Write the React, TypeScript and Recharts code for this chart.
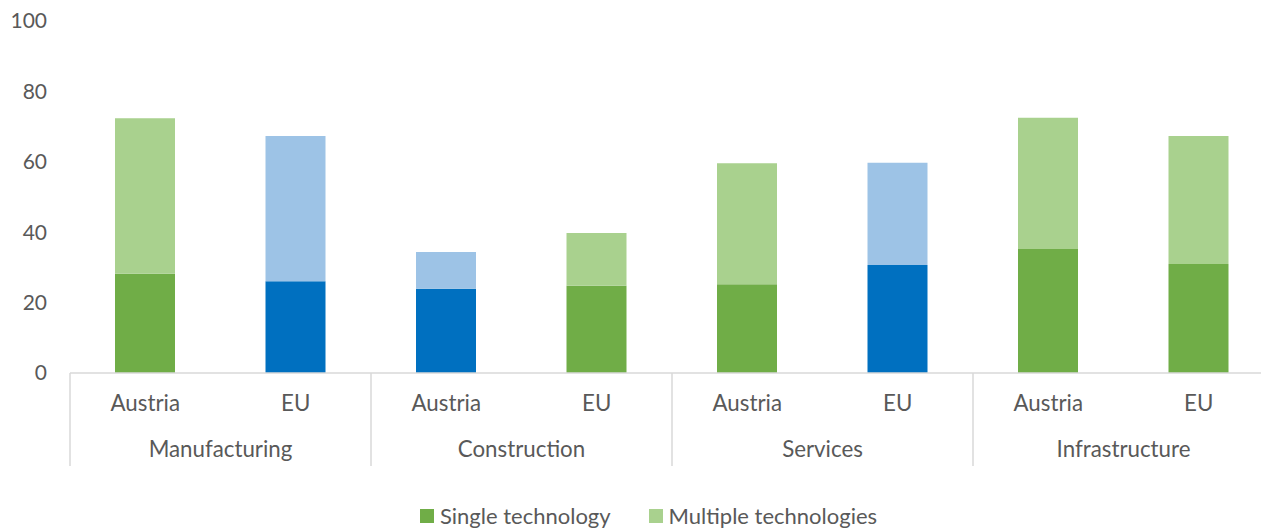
import { BarChart, Bar, XAxis, YAxis, Legend, Cell } from "recharts";

const sectors = ["Manufacturing", "Construction", "Services", "Infrastructure"];
const countries = ["Austria", "EU", "Austria", "EU", "Austria", "EU", "Austria", "EU"];
const singleTech = [28.2, 26.1, 23.9, 24.8, 25.2, 30.7, 35.2, 31.0];
const multipleTech = [44.2, 41.2, 10.5, 15.0, 34.4, 29.0, 37.3, 36.3];
const yTicks = [0, 20, 40, 60, 80, 100];
// bars drawn in blue instead of green
const blueBars = [1, 2, 5];

const CHART_W = 1280;
const CHART_H = 528;
const MARGIN = { top: 21, right: 6, left: 0, bottom: 0 };
const Y_W = 70;
const SLOT = (CHART_W - MARGIN.left - MARGIN.right - Y_W) / countries.length;

const TEXT = "#595959";
const AXIS = "#D9D9D9";
const FONT = "Lato, 'Noto Sans', sans-serif";

const data = countries.map((c, i) => ({
  country: c,
  sector: sectors[Math.floor(i / 2)],
  single: singleTech[i],
  multiple: multipleTech[i],
}));

function CountryTick(props: any) {
  const { x, y, payload } = props;
  const i = payload.index;
  return (
    <g>
      <text x={x} y={y + 38} textAnchor="middle" fill={TEXT} fontSize={22.3} fontFamily={FONT}>
        {payload.value}
      </text>
      {i % 2 === 0 && (
        <>
          <line x1={x - SLOT / 2} x2={x - SLOT / 2} y1={y} y2={y + 93} stroke={AXIS} strokeWidth={1.5} />
          <text x={x + SLOT / 2} y={y + 84} textAnchor="middle" fill={TEXT} fontSize={22.3} fontFamily={FONT}>
            {sectors[i / 2]}
          </text>
        </>
      )}
      {i === countries.length - 1 && (
        <line x1={x + SLOT / 2} x2={x + SLOT / 2} y1={y} y2={y + 93} stroke={AXIS} strokeWidth={1.5} />
      )}
    </g>
  );
}

function LegendBox() {
  const items = [
    { label: "Single technology", color: "#70AD47" },
    { label: "Multiple technologies", color: "#A9D18E" },
  ];
  return (
    <div style={{ height: 62, position: "relative" }}>
      <div
        style={{
          position: "absolute",
          top: 42,
          left: 0,
          right: 0,
          display: "flex",
          justifyContent: "center",
          paddingLeft: 23,
          gap: 38,
          fontFamily: FONT,
          fontSize: 22,
          color: TEXT,
          lineHeight: "16px",
        }}
      >
        {items.map((it) => (
          <div key={it.label} style={{ display: "flex", alignItems: "center", gap: 6 }}>
            <span style={{ width: 14, height: 14, background: it.color, display: "inline-block" }} />
            <span>{it.label}</span>
          </div>
        ))}
      </div>
    </div>
  );
}

export default function App() {
  return (
    <div style={{ position: "absolute", left: 0, top: 0, width: 1261, height: CHART_H, overflow: "hidden", background: "#fff" }}>
      <BarChart width={CHART_W} height={CHART_H} data={data} margin={MARGIN}>
        <XAxis
          dataKey="country"
          height={93}
          axisLine={{ stroke: AXIS, strokeWidth: 1.5 }}
          tickLine={false}
          tickSize={0}
          tickMargin={0}
          interval={0}
          tick={<CountryTick />}
        />
        <YAxis
          width={Y_W}
          domain={[0, 100]}
          ticks={yTicks}
          axisLine={false}
          tickLine={false}
          tickMargin={17}
          tick={{ fill: TEXT, fontSize: 21, fontFamily: FONT }}
        />
        <Legend verticalAlign="bottom" content={<LegendBox />} />
        <Bar dataKey="single" name="Single technology" stackId="a" barSize={60} fill="#70AD47" isAnimationActive={false}>
          {data.map((_, i) => (
            <Cell key={i} fill={blueBars.includes(i) ? "#0070C0" : "#70AD47"} />
          ))}
        </Bar>
        <Bar dataKey="multiple" name="Multiple technologies" stackId="a" barSize={60} fill="#A9D18E" isAnimationActive={false}>
          {data.map((_, i) => (
            <Cell key={i} fill={blueBars.includes(i) ? "#9DC3E6" : "#A9D18E"} />
          ))}
        </Bar>
      </BarChart>
    </div>
  );
}
